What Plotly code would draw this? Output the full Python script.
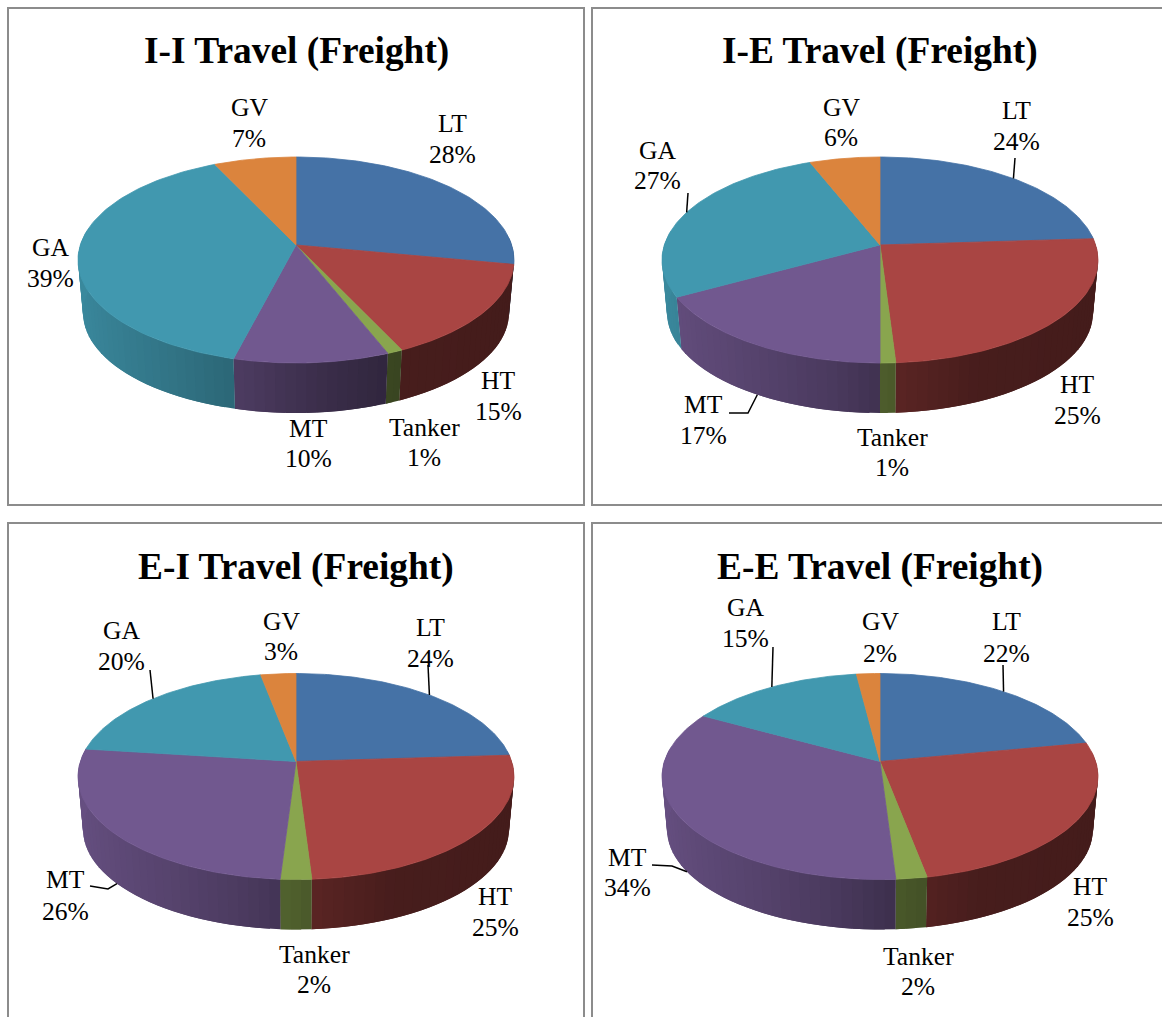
import numpy as np
import plotly.graph_objects as go

# Slices run clockwise from twelve o'clock in this order.
CATEGORIES = ["LT", "HT", "Tanker", "MT", "GA", "GV"]
II_VALUES = [28, 15, 1, 10, 39, 7]
IE_VALUES = [24, 25, 1, 17, 27, 6]
EI_VALUES = [24, 25, 2, 26, 20, 3]
EE_VALUES = [22, 25, 2, 34, 15, 2]
TITLES = ["I-I Travel (Freight)", "I-E Travel (Freight)",
          "E-I Travel (Freight)", "E-E Travel (Freight)"]
COLORS = ["#4572A6", "#A94543", "#89A54E", "#71588F", "#4198AF", "#DB843D"]

W, H = 1162, 1017
SERIF = "Liberation Serif"
PANEL_W, PANEL_H = 576, 497
RX, RY = 218.0, 103.0
RX_LOW, RY_LOW, DROP = 213.0, 100.0, 53.0
TILT = -0.146  # perspective shift of the hub relative to the ellipse centre

# panel frame corner, ellipse centre, title centre
PANELS = [
    dict(values=II_VALUES, frame=(8, 8), c=(296, 260), title=(296, 51)),
    dict(values=IE_VALUES, frame=(592, 8), c=(880, 260), title=(880, 51)),
    dict(values=EI_VALUES, frame=(8, 523), c=(296, 776.5), title=(296, 566.5)),
    dict(values=EE_VALUES, frame=(592, 523), c=(880, 776.5), title=(880, 566.5)),
]

# label text centres: category -> (x, name line y, percent line y)
LABELS = [
    {"GV": (249, 107, 138), "LT": (452, 123, 154), "GA": (50, 247, 278),
     "HT": (498, 380, 411), "Tanker": (424, 427, 457), "MT": (308, 428, 458)},
    {"GV": (841, 107, 137), "LT": (1016, 110, 141), "GA": (657, 150, 180),
     "HT": (1077, 384, 415), "Tanker": (892, 437, 467), "MT": (703, 404, 435)},
    {"GV": (281, 621, 651), "LT": (430, 627, 658), "GA": (121, 630, 661),
     "HT": (495, 896, 927), "Tanker": (314, 954, 984), "MT": (65, 879, 911)},
    {"GV": (880, 621, 653), "LT": (1006, 621, 653), "GA": (745, 607, 638),
     "HT": (1090, 886, 917), "Tanker": (918, 956, 986), "MT": (627, 857, 887)},
]

# leader lines: category -> waypoints leaving the label, ending on the slice rim
LEADERS = [
    {},
    {"LT": [(1015, 158)], "GA": [(688, 193)], "MT": [(729, 413), (748, 413)]},
    {"LT": [(428, 665)], "GA": [(150, 670)], "MT": [(90, 886), (108, 889)]},
    {"LT": [(1003, 665)], "GA": [(773, 647)], "MT": [(652, 865), (672, 866)]},
]


def project(theta, cx, cy, low=False):
    """Perspective projection of a rim angle (radians, clockwise from the back)."""
    u, v = np.sin(theta), -np.cos(theta)
    den = 1 + TILT * v
    X = u * np.sqrt(1 - TILT ** 2) / den
    Y = (v + TILT) / den
    if low:
        return cx + RX_LOW * X, cy + DROP + RY_LOW * Y
    return cx + RX * X, cy + RY * Y


def shade(hex_color, theta):
    """Darken a slice colour for the side wall, lit from the left."""
    f = np.interp(np.sin(theta), [-1, -0.5, -0.2, 0.1, 0.4, 1],
                  [0.90, 0.76, 0.66, 0.52, 0.42, 0.40])
    r, g, b = (int(hex_color[i:i + 2], 16) for i in (1, 3, 5))
    return f"rgb({r * f:.0f},{g * f:.0f},{b * f:.0f})"


def polygon(xs, ys, color, edge=0.8):
    return go.Scatter(x=xs, y=ys, mode="lines", fill="toself", fillcolor=color,
                      line=dict(color=color, width=edge), hoverinfo="skip",
                      showlegend=False)


fig = go.Figure()
shapes, annotations = [], []

for p, labels, leaders, title in zip(PANELS, LABELS, LEADERS, TITLES):
    vals = np.array(p["values"], dtype=float)
    edges = np.concatenate([[0], np.cumsum(vals)]) / vals.sum() * 2 * np.pi
    cx, cy = p["c"]
    fx, fy = p["frame"]

    shapes.append(dict(type="rect", x0=fx, y0=fy, x1=fx + PANEL_W, y1=fy + PANEL_H,
                       line=dict(color="#8C8C8C", width=2), layer="below"))

    # Side wall: narrow facets carry the gradient. Each one runs on under its
    # neighbour so no hairline gap shows, and later slices paint over the overlap.
    for i, color in enumerate(COLORS):
        span = edges[i + 1] - edges[i]
        steps = max(1, int(np.ceil(np.degrees(span) / 2.5)))
        ts = np.linspace(edges[i], edges[i + 1], steps + 1)
        for k, (a, b) in enumerate(zip(ts[:-1], ts[1:])):
            if max(-np.cos(a), -np.cos(b)) < -0.1:
                continue
            far = min(b + (b - a), edges[i + 1]) if k < steps - 1 else b
            xa, ya = project(np.array([a, far]), cx, cy)
            xb, yb = project(np.array([far, a]), cx, cy, low=True)
            fig.add_trace(polygon(list(xa) + list(xb) + [xa[0]],
                                  list(ya) + list(yb) + [ya[0]],
                                  shade(color, (a + b) / 2), edge=0))

    # Top face
    hub_x, hub_y = cx, cy + RY * TILT
    for i, color in enumerate(COLORS):
        ts = np.linspace(edges[i], edges[i + 1], 90)
        xs, ys = project(ts, cx, cy)
        fig.add_trace(polygon([hub_x] + list(xs) + [hub_x],
                              [hub_y] + list(ys) + [hub_y], color))

    # Leader lines end at the middle of the slice's outer edge
    for cat, pts in leaders.items():
        i = CATEGORIES.index(cat)
        mid = (edges[i] + edges[i + 1]) / 2
        ex, ey = project(mid, cx, cy, low=-np.cos(mid) > 0)
        fig.add_trace(go.Scatter(x=[q[0] for q in pts] + [ex],
                                 y=[q[1] for q in pts] + [ey], mode="lines",
                                 line=dict(color="#000000", width=1.5),
                                 hoverinfo="skip", showlegend=False))

    for cat, val in zip(CATEGORIES, p["values"]):
        x, y1, y2 = labels[cat]
        for text, y in ((cat, y1), (f"{val}%", y2)):
            annotations.append(dict(x=x, y=y, text=text, showarrow=False,
                                    xanchor="center", yanchor="middle",
                                    font=dict(family=SERIF, size=25.6, color="#000000")))

    annotations.append(dict(x=p["title"][0], y=p["title"][1], text=f"<b>{title}</b>",
                            showarrow=False, xanchor="center", yanchor="middle",
                            font=dict(family=SERIF, size=37.4, color="#000000")))

fig.update_layout(
    width=W, height=H, autosize=False,
    margin=dict(l=0, r=0, t=0, b=0),
    paper_bgcolor="#FFFFFF", plot_bgcolor="#FFFFFF",
    showlegend=False, shapes=shapes, annotations=annotations,
    xaxis=dict(range=[0, W], visible=False, fixedrange=True),
    yaxis=dict(range=[H, 0], visible=False, fixedrange=True),
)
fig.write_html("out.html", config=dict(displayModeBar=False))
